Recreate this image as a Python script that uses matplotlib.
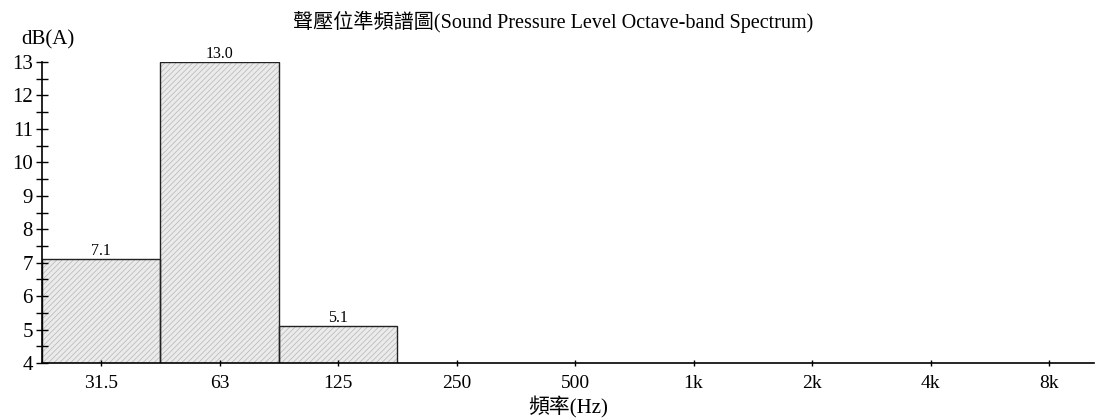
import matplotlib.pyplot as plt
import numpy as np

# octave band data
bands = ["31.5", "63", "125", "250", "500", "1k", "2k", "4k", "8k"]
levels = [7.1, 13.0, 5.1, np.nan, np.nan, np.nan, np.nan, np.nan, np.nan]
y_ticks = [4, 5, 6, 7, 8, 9, 10, 11, 12, 13]

serif = ["Liberation Serif", "Noto Sans CJK TC"]
plt.rcParams["font.family"] = serif
plt.rcParams["hatch.linewidth"] = 0.5

fig = plt.figure(figsize=(10.96, 4.19), dpi=100)
ax = fig.add_axes([42 / 1096, 56 / 419, 1052 / 1096, 301 / 419])

x = np.arange(len(bands))
# hatched fill (hatch takes the edge colour, so draw outline separately)
ax.bar(x, levels, width=1.0, color="#ebebeb", edgecolor="#b5b5b5",
       linewidth=0, hatch="//////")
ax.bar(x, levels, width=1.0, fill=False, edgecolor="#222222", linewidth=1.0)

for xi, v in zip(x, levels):
    if not np.isnan(v):
        ax.text(xi, v, f"{v:.1f}", ha="center", va="bottom", fontsize=11.5)

ax.set_xlim(-0.5, 8.38)
ax.set_ylim(4, 13)
ax.set_xticks(x)
ax.set_xticklabels(bands, fontsize=14)
ax.set_yticks(y_ticks)
ax.set_yticklabels([str(t) for t in y_ticks], fontsize=15)
ax.set_yticks(np.arange(4.5, 13, 1.0), minor=True)
ax.tick_params(axis="y", which="both", direction="inout", length=9, width=1, pad=2)
ax.tick_params(axis="x", direction="inout", length=5, width=1, pad=6)

for s in ["top", "right"]:
    ax.spines[s].set_visible(False)
ax.spines["left"].set_linewidth(1.2)
ax.spines["bottom"].set_linewidth(1.2)

ax.set_xlabel("頻率(Hz)", fontsize=15, labelpad=3)
fig.text(553 / 1096, 1 - 22 / 419, "聲壓位準頻譜圖(Sound Pressure Level Octave-band Spectrum)",
         ha="center", va="center", fontsize=14.5)
fig.text(48 / 1096, 1 - 40 / 419, "dB(A)", ha="center", va="center", fontsize=15)

fig.savefig("out.png", dpi=100)
